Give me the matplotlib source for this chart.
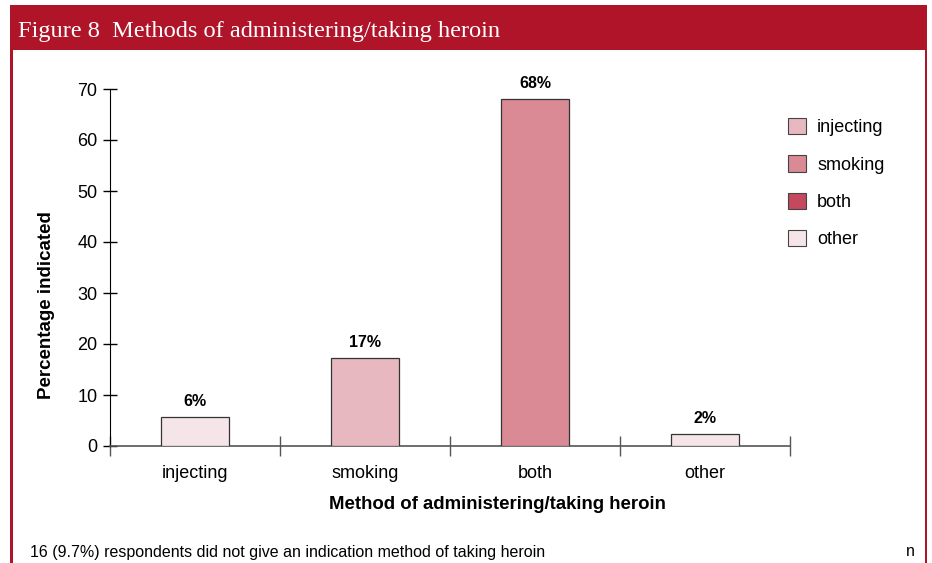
import matplotlib
matplotlib.use("Agg")
import matplotlib.pyplot as plt
from matplotlib.patches import Rectangle, Patch

# Data
categories = ["injecting", "smoking", "both", "other"]
values = [5.6, 17.2, 68.0, 2.3]
bar_colors = ["#f5e4e8", "#e8b8c0", "#d98a95", "#f5e4e8"]
legend_labels = ["injecting", "smoking", "both", "other"]
legend_colors = ["#e8b8c0", "#d98a95", "#c4485e", "#f5e4e8"]
y_ticks = [0, 10, 20, 30, 40, 50, 60, 70]

title = "Figure 8  Methods of administering/taking heroin"
x_label = "Method of administering/taking heroin"
y_label = "Percentage indicated"
footnote = "16 (9.7%) respondents did not give an indication method of taking heroin"

W, H = 932, 563
RED = "#b01429"
plt.rcParams["font.family"] = ["Liberation Sans", "DejaVu Sans"]

fig = plt.figure(figsize=(W / 100, H / 100), dpi=100)


def fx(px):
    return px / W


def fy(py):
    return 1 - py / H


# Frame: red header band and side borders
fig.add_artist(Rectangle((fx(10), fy(50)), fx(917), 45 / H, transform=fig.transFigure,
                         facecolor=RED, edgecolor="none", zorder=0))
fig.add_artist(Rectangle((fx(10), 0), fx(2.5), fy(50), transform=fig.transFigure,
                         facecolor=RED, edgecolor="none", zorder=0))
fig.add_artist(Rectangle((fx(924.5), 0), fx(2.5), fy(50), transform=fig.transFigure,
                         facecolor=RED, edgecolor="none", zorder=0))
fig.text(fx(18), fy(32), title, color="white", fontsize=17.6,
         family=["Liberation Serif", "DejaVu Serif"], va="center", ha="left")

ax = fig.add_axes([fx(110), fy(446), fx(790) - fx(110), (446 - 89) / H])
x = list(range(len(categories)))
bars = ax.bar(x, values, width=0.4, color=bar_colors, edgecolor="#333333",
              linewidth=0.9, zorder=3)
for xi, v in zip(x, values):
    ax.annotate(f"{v:.0f}%", (xi, v), xytext=(0, 6), textcoords="offset points",
                ha="center", va="bottom", fontsize=11.5, fontweight="bold")

ax.set_xlim(-0.5, len(categories) - 0.5)
ax.set_ylim(0, 70)
ax.set_yticks(y_ticks)
ax.tick_params(axis="y", direction="inout", length=10, width=1, labelsize=13,
               pad=4, color="black")
ax.set_xticks([i - 0.5 for i in range(len(categories) + 1)])
ax.set_xticklabels([])
ax.tick_params(axis="x", which="major", direction="inout", length=14, width=1,
               color="#555555")
ax.set_xticks(x, minor=True)
ax.set_xticklabels(categories, minor=True)
ax.tick_params(axis="x", which="minor", length=0, labelsize=13, pad=14)

for s in ("top", "right"):
    ax.spines[s].set_visible(False)
ax.spines["left"].set_color("black")
ax.spines["bottom"].set_color("#555555")
ax.spines["bottom"].set_linewidth(1.2)

ax.set_xlabel(x_label, fontsize=13.4, fontweight="bold")
ax.xaxis.set_label_coords(0.57, -0.14)
ax.set_ylabel(y_label, fontsize=13.5, fontweight="bold")
ax.yaxis.set_label_coords(-0.081, 0.395)

handles = [Patch(facecolor=c, edgecolor="#444444", linewidth=0.8) for c in legend_colors]
fig.legend(handles, legend_labels, loc="upper left",
           bbox_to_anchor=(fx(781), fy(111)), frameon=False, fontsize=13,
           handlelength=1.0, handleheight=1.0, handletextpad=0.6,
           labelspacing=1.05, borderaxespad=0)

fig.text(fx(30), fy(552), footnote, fontsize=11.55, va="center", ha="left")
fig.text(fx(910), fy(552), "n", fontsize=11.5, va="center", ha="center")

fig.savefig("out.png", dpi=100)
